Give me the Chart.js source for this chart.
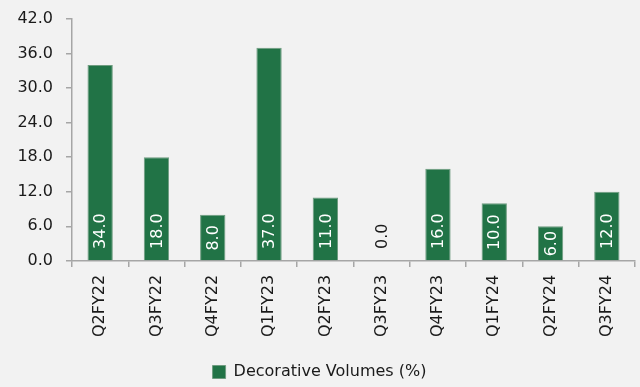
<!DOCTYPE html>
<html>
<head>
<meta charset="utf-8">
<script src="https://cdn.jsdelivr.net/npm/chart.js@4/dist/chart.umd.min.js"></script>
<style>
  html, body { margin: 0; padding: 0; background: #f2f2f2; }
  #wrap { width: 640px; height: 387px; }
</style>
</head>
<body>
<div id="wrap"><canvas id="chart"></canvas></div>
<script>
const quarters = ["Q2FY22", "Q3FY22", "Q4FY22", "Q1FY23", "Q2FY23", "Q3FY23", "Q4FY23", "Q1FY24", "Q2FY24", "Q3FY24"]
const volumes = [34, 18, 8, 37, 11, 0, 16, 10, 6, 12]
const yTicks = [0, 6, 12, 18, 24, 30, 36, 42]

const FONT = "'DejaVu Sans', sans-serif"
const axisGray = "#a6a6a6"

// writes the value inside each bar, rotated, near the base
// (centred in the bar when it is too short for the text)
const barLabels = {
    id: "barLabels",
    afterDatasetsDraw(chart) {
        const ctx = chart.ctx
        const meta = chart.getDatasetMeta(0)
        const base = chart.scales.y.getPixelForValue(0)
        ctx.save()
        ctx.font = "16px " + FONT
        ctx.textBaseline = "middle"
        meta.data.forEach((bar, i) => {
            const val = volumes[i]
            const txt = val.toFixed(1)
            const w = ctx.measureText(txt).width
            const h = base - bar.y
            let start = 12
            if (val > 0 && w + 2 * start > h) start = (h - w) / 2
            ctx.save()
            ctx.translate(bar.x, base - start)
            ctx.rotate(-Math.PI / 2)
            ctx.fillStyle = val > 0 ? "#ffffff" : "#1a1a1a"
            ctx.fillText(txt, 0, 1)
            ctx.restore()
        })
        ctx.restore()
    }
}

new Chart(document.getElementById("chart"), {
    type: "bar",
    data: {
        labels: quarters,
        datasets: [{
            label: "Decorative Volumes (%)",
            data: volumes,
            backgroundColor: "#217346",
            borderColor: "#6f9c80",
            borderWidth: 1,
            borderSkipped: "bottom",
            barPercentage: 0.9,
            categoryPercentage: 0.5
        }]
    },
    options: {
        responsive: true,
        maintainAspectRatio: false,
        animation: false,
        layout: { padding: { top: 19, right: 5, left: 4, bottom: -3 } },
        plugins: {
            tooltip: { enabled: false },
            legend: {
                position: "bottom",
                labels: {
                    color: "#1a1a1a",
                    font: { family: FONT, size: 16 },
                    boxWidth: 13,
                    boxHeight: 13,
                    padding: 6,
                    useBorderRadius: false
                }
            }
        },
        scales: {
            x: {
                afterFit(scale) { scale.height += 13 },
                border: { color: axisGray, width: 1.5 },
                grid: { display: true, drawOnChartArea: false, drawTicks: true, tickLength: 6, color: axisGray, lineWidth: 1.5 },
                ticks: {
                    color: "#1a1a1a",
                    font: { family: FONT, size: 16 },
                    minRotation: 90,
                    maxRotation: 90,
                    padding: 8,
                    autoSkip: false
                }
            },
            y: {
                min: 0,
                max: 42,
                afterFit(scale) {
                    scale.width = 68
                    scale.paddingTop = 0
                    scale.paddingBottom = 0
                },
                afterBuildTicks(scale) { scale.ticks = yTicks.map(v => ({ value: v })) },
                border: { color: axisGray, width: 1.5 },
                grid: { display: true, drawOnChartArea: false, drawTicks: true, tickLength: 6, color: axisGray, lineWidth: 1.5 },
                ticks: {
                    color: "#1a1a1a",
                    font: { family: FONT, size: 16 },
                    padding: 13,
                    callback: v => v.toFixed(1)
                }
            }
        }
    },
    plugins: [barLabels]
})
</script>
</body>
</html>
